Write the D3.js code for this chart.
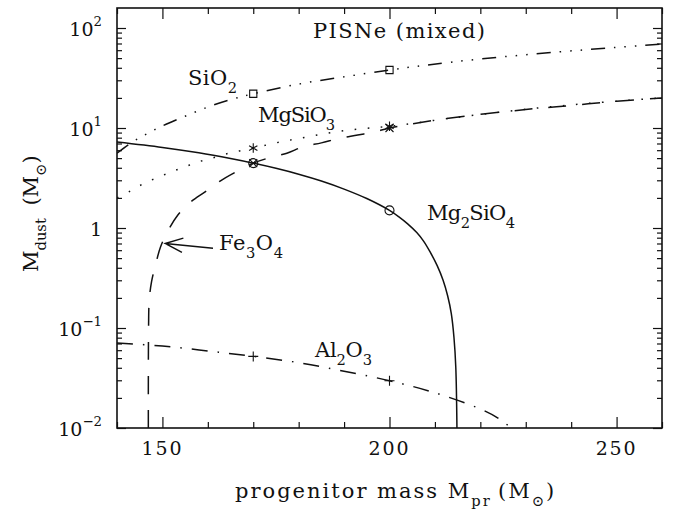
<!DOCTYPE html>
<html>
<head>
<meta charset="utf-8">
<script src="https://cdn.jsdelivr.net/npm/d3@7"></script>
<style>
  body { margin: 0; background: #fff; }
  svg { display: block; }
  text { font-family: "DejaVu Serif", "Liberation Serif", serif; fill: #111; }
</style>
</head>
<body>
<script>
// Dust mass formed in pair-instability supernovae (mixed ejecta) vs progenitor mass
const massDomain = [140, 260];
const dustDomain = [0.01, Math.pow(10, 2.2)];
const majorMassTicks = [150, 200, 250];
const minorMassTicks = [140, 160, 170, 180, 190, 210, 220, 230, 240, 260];
const majorDustTicks = [0.01, 0.1, 1, 10, 100];
const dustTickLabels = [["10", "\u22122"], ["10", "\u22121"], ["1", ""], ["10", "1"], ["10", "2"]];

const sio2Mass = [140, 142.5, 145, 147.5, 150, 155, 160, 165, 170, 180, 190, 200, 208, 220, 237, 250, 260];
const sio2Dust = [5.6, 6.8, 8.0, 9.2, 10.5, 13.1, 16.2, 19.2, 22, 27.5, 32.5, 38, 42.5, 49, 57.5, 64, 69];

const mgsio3Mass = [140, 143, 146, 149, 152, 155, 158, 161, 164, 167, 170, 175, 180, 185, 190, 195, 200, 215, 230, 245, 260];
const mgsio3Dust = [2.0, 2.35, 2.8, 3.2, 3.65, 4.1, 4.6, 5.0, 5.5, 5.9, 6.3, 7.1, 7.85, 8.65, 9.4, 9.95, 10.4, 12.8, 15.4, 17.8, 20];

const fe3o4Mass = [146.9, 146.95, 147.1, 147.6, 148.5, 149.6, 151.3, 153.4, 156.1, 159.4, 162.7, 166, 170, 173.3, 177.4, 181, 185, 189, 193, 197, 200, 213, 230, 240, 250, 260];
const fe3o4Dust = [0.01, 0.1, 0.19, 0.29, 0.43, 0.65, 0.95, 1.35, 1.8, 2.3, 2.95, 3.6, 4.45, 5.0, 5.6, 6.5, 7.1, 7.9, 8.5, 9.2, 10, 12.5, 15.3, 16.8, 18.5, 20];

const mg2sio4Mass = [140, 150, 158, 165, 170, 175, 180, 185, 190, 195, 200, 202, 204, 206, 207.5, 209, 210.5, 211.8, 212.8, 213.6, 214.2, 214.6, 214.85];
const mg2sio4Dust = [7.25, 6.4, 5.65, 4.95, 4.45, 3.95, 3.45, 2.95, 2.45, 1.97, 1.5, 1.3, 1.1, 0.9, 0.74, 0.57, 0.42, 0.3, 0.21, 0.14, 0.08, 0.04, 0.01];

const al2o3Mass = [140, 150, 160, 170, 180, 190, 200, 210, 220, 224, 227];
const al2o3Dust = [0.071, 0.066, 0.059, 0.052, 0.045, 0.037, 0.0297, 0.0225, 0.0155, 0.0125, 0.0098];

// computed models are marked at these progenitor masses
const modelMass = [170, 200];
const sio2Model = [22, 38];
const mgsio3Model = [6.3, 10.4];
const fe3o4Model = [4.45, 10];
const mg2sio4Model = [4.45, 1.5];
const al2o3Model = [0.052, 0.0297];

const W = 675, H = 515;
const plot = { left: 117, right: 662, top: 8, bottom: 428 };
const FS = 21;

const svg = d3.select("body").append("svg").attr("width", W).attr("height", H);

const x = d3.scaleLinear().domain(massDomain).range([plot.left, plot.right]);
const y = d3.scaleLog().domain(dustDomain).range([plot.bottom, plot.top]);

// minor decade ticks 2..9
const minorDustTicks = [];
for (let e = -2; e <= 2; e++) for (let k = 2; k <= 9; k++) {
  const v = k * Math.pow(10, e);
  if (v < dustDomain[1]) minorDustTicks.push(v);
}

// text with sub/superscripts
function richText(parent, px, py, parts, opts = {}) {
  const size = opts.size || FS;
  const t = parent.append("text").attr("x", px).attr("y", py).attr("font-size", size);
  let cur = 0, n = 0;
  parts.forEach(([s, k]) => {
    if (!s) return;
    const off = k === 1 ? size * 0.38 : k === 2 ? -size * 0.48 : 0;
    const sp = t.append("tspan").attr("dy", off - cur).attr("font-size", k ? size * 0.7 : size).text(s);
    if (s.startsWith(" ")) { sp.text(s.trimStart()).attr("dx", size * 0.3 * (s.length - s.trimStart().length)); }
    cur = off; n += s.trim().length;
  });
  if (opts.width) {
    const w = t.node().getComputedTextLength();
    t.attr("letter-spacing", (opts.width - w) / Math.max(1, n - 1));
  }
  if (opts.anchor === "middle") {
    const w = t.node().getComputedTextLength();
    t.attr("x", px - w / 2);
  }
  if (opts.rotate) t.attr("transform", `rotate(${opts.rotate},${px},${py})`);
  return t;
}

// axes: ticks inward on all four sides
const axG = svg.append("g");
function addAxis(axisFn, scale, vals, size, transform) {
  const g = axG.append("g").attr("transform", transform)
    .call(axisFn(scale).tickValues(vals).tickSize(-size).tickFormat(""));
  g.select(".domain").remove();
  g.selectAll(".tick line").attr("stroke", "#111").attr("stroke-width", 1.2);
  return g;
}
addAxis(d3.axisBottom, x, majorMassTicks, 11, `translate(0,${plot.bottom})`);
addAxis(d3.axisBottom, x, minorMassTicks, 6, `translate(0,${plot.bottom})`);
addAxis(d3.axisTop, x, majorMassTicks, 11, `translate(0,${plot.top})`);
addAxis(d3.axisTop, x, minorMassTicks, 6, `translate(0,${plot.top})`);
addAxis(d3.axisLeft, y, majorDustTicks, 9, `translate(${plot.left},0)`);
addAxis(d3.axisLeft, y, minorDustTicks, 5, `translate(${plot.left},0)`);
addAxis(d3.axisRight, y, majorDustTicks, 9, `translate(${plot.right},0)`);
addAxis(d3.axisRight, y, minorDustTicks, 5, `translate(${plot.right},0)`);

// tick labels
majorMassTicks.forEach(v => {
  richText(svg, x(v), 455, [[String(v), 0]], { anchor: "middle", size: 19, width: 40 });
});
majorDustTicks.forEach((v, i) => {
  const [base, exp] = dustTickLabels[i];
  const t = richText(svg, 0, y(v) + 7.5, [[base, 0], [exp, 2]], { size: 19 });
  const w = t.node().getComputedTextLength();
  t.attr("x", 102 - w);
});

// frame
svg.append("rect")
  .attr("x", plot.left).attr("y", plot.top)
  .attr("width", plot.right - plot.left).attr("height", plot.bottom - plot.top)
  .attr("fill", "none").attr("stroke", "#111").attr("stroke-width", 1.6);

// curves
svg.append("clipPath").attr("id", "clip").append("rect")
  .attr("x", plot.left).attr("y", plot.top)
  .attr("width", plot.right - plot.left).attr("height", plot.bottom - plot.top);
const curves = svg.append("g").attr("clip-path", "url(#clip)");
const line = d3.line().x(d => x(d[0])).y(d => y(d[1])).curve(d3.curveCatmullRom.alpha(0.5));
const zip = (a, b) => a.map((m, i) => [m, b[i]]);

const series = [
  { mass: sio2Mass, dust: sio2Dust, dash: "14,9,1.5,9,1.5,9,1.5,9" },
  { mass: mgsio3Mass, dust: mgsio3Dust, dash: "1.6,11.5" },
  { mass: fe3o4Mass, dust: fe3o4Dust, dash: "18,16" },
  { mass: mg2sio4Mass, dust: mg2sio4Dust, dash: null },
  { mass: al2o3Mass, dust: al2o3Dust, dash: "16,10,1.5,10" }
];
series.forEach(s => {
  curves.append("path")
    .attr("d", line(zip(s.mass, s.dust)))
    .attr("fill", "none").attr("stroke", "#111").attr("stroke-width", 1.5)
    .attr("stroke-dasharray", s.dash);
});

// model markers
const mk = svg.append("g").attr("fill", "none").attr("stroke", "#111").attr("stroke-width", 1.1);
const shapes = {
  square: r => `M${-r},${-r}H${r}V${r}H${-r}Z`,
  circle: r => `M${r},0A${r},${r} 0 1,1 ${-r},0A${r},${r} 0 1,1 ${r},0Z`,
  times: r => `M${-r},${-r}L${r},${r}M${-r},${r}L${r},${-r}`,
  plus: r => `M${-r},0H${r}M0,${-r}V${r}`,
  star: r => {
    const c = r * Math.cos(Math.PI / 6), s = r * Math.sin(Math.PI / 6);
    return `M0,${-r}V${r}M${-c},${-s}L${c},${s}M${-c},${s}L${c},${-s}`;
  }
};
function markers(vals, shape, r) {
  modelMass.forEach((m, i) => {
    mk.append("path").attr("transform", `translate(${x(m)},${y(vals[i])})`).attr("d", shapes[shape](r));
  });
}
markers(sio2Model, "square", 3.6);
markers(mgsio3Model, "star", 4.8);
markers(fe3o4Model, "times", 4);
markers(mg2sio4Model, "circle", 4.5);
markers(al2o3Model, "plus", 5);

// species labels
richText(svg, 313, 38, [["PISNe (mixed)", 0]], { width: 172 });
richText(svg, 188, 85, [["SiO", 0], ["2", 1]], { width: 49 });
richText(svg, 258, 122, [["MgSiO", 0], ["3", 1]], { width: 77 });
richText(svg, 427, 220, [["Mg", 0], ["2", 1], ["SiO", 0], ["4", 1]], { width: 88 });
richText(svg, 219, 250, [["Fe", 0], ["3", 1], ["O", 0], ["4", 1]], { width: 64 });
richText(svg, 315, 357, [["Al", 0], ["2", 1], ["O", 0], ["3", 1]], { width: 57 });

// arrow pointing at the Fe3O4 curve
const tip = [x(150.6), y(0.7)];
const tail = [213, 248.3];
const ang = Math.atan2(tail[1] - tip[1], tail[0] - tip[0]);
const hl = 19, ha = 22 * Math.PI / 180;
svg.append("path")
  .attr("d", `M${tail[0]},${tail[1]}L${tip[0]},${tip[1]}` +
    `M${tip[0] + hl * Math.cos(ang - ha)},${tip[1] + hl * Math.sin(ang - ha)}L${tip[0]},${tip[1]}` +
    `L${tip[0] + hl * Math.cos(ang + ha)},${tip[1] + hl * Math.sin(ang + ha)}`)
  .attr("fill", "none").attr("stroke", "#111").attr("stroke-width", 1.4);

// axis titles
richText(svg, 235, 498, [["progenitor mass M", 0], ["pr", 1], [" (M", 0], ["\u2299", 1], [")", 0]], { width: 313 });
richText(svg, 38, 220, [["M", 0], ["dust", 1], ["  (M", 0], ["\u2299", 1], [")", 0]], { anchor: "middle", rotate: -90 });
</script>
</body>
</html>
